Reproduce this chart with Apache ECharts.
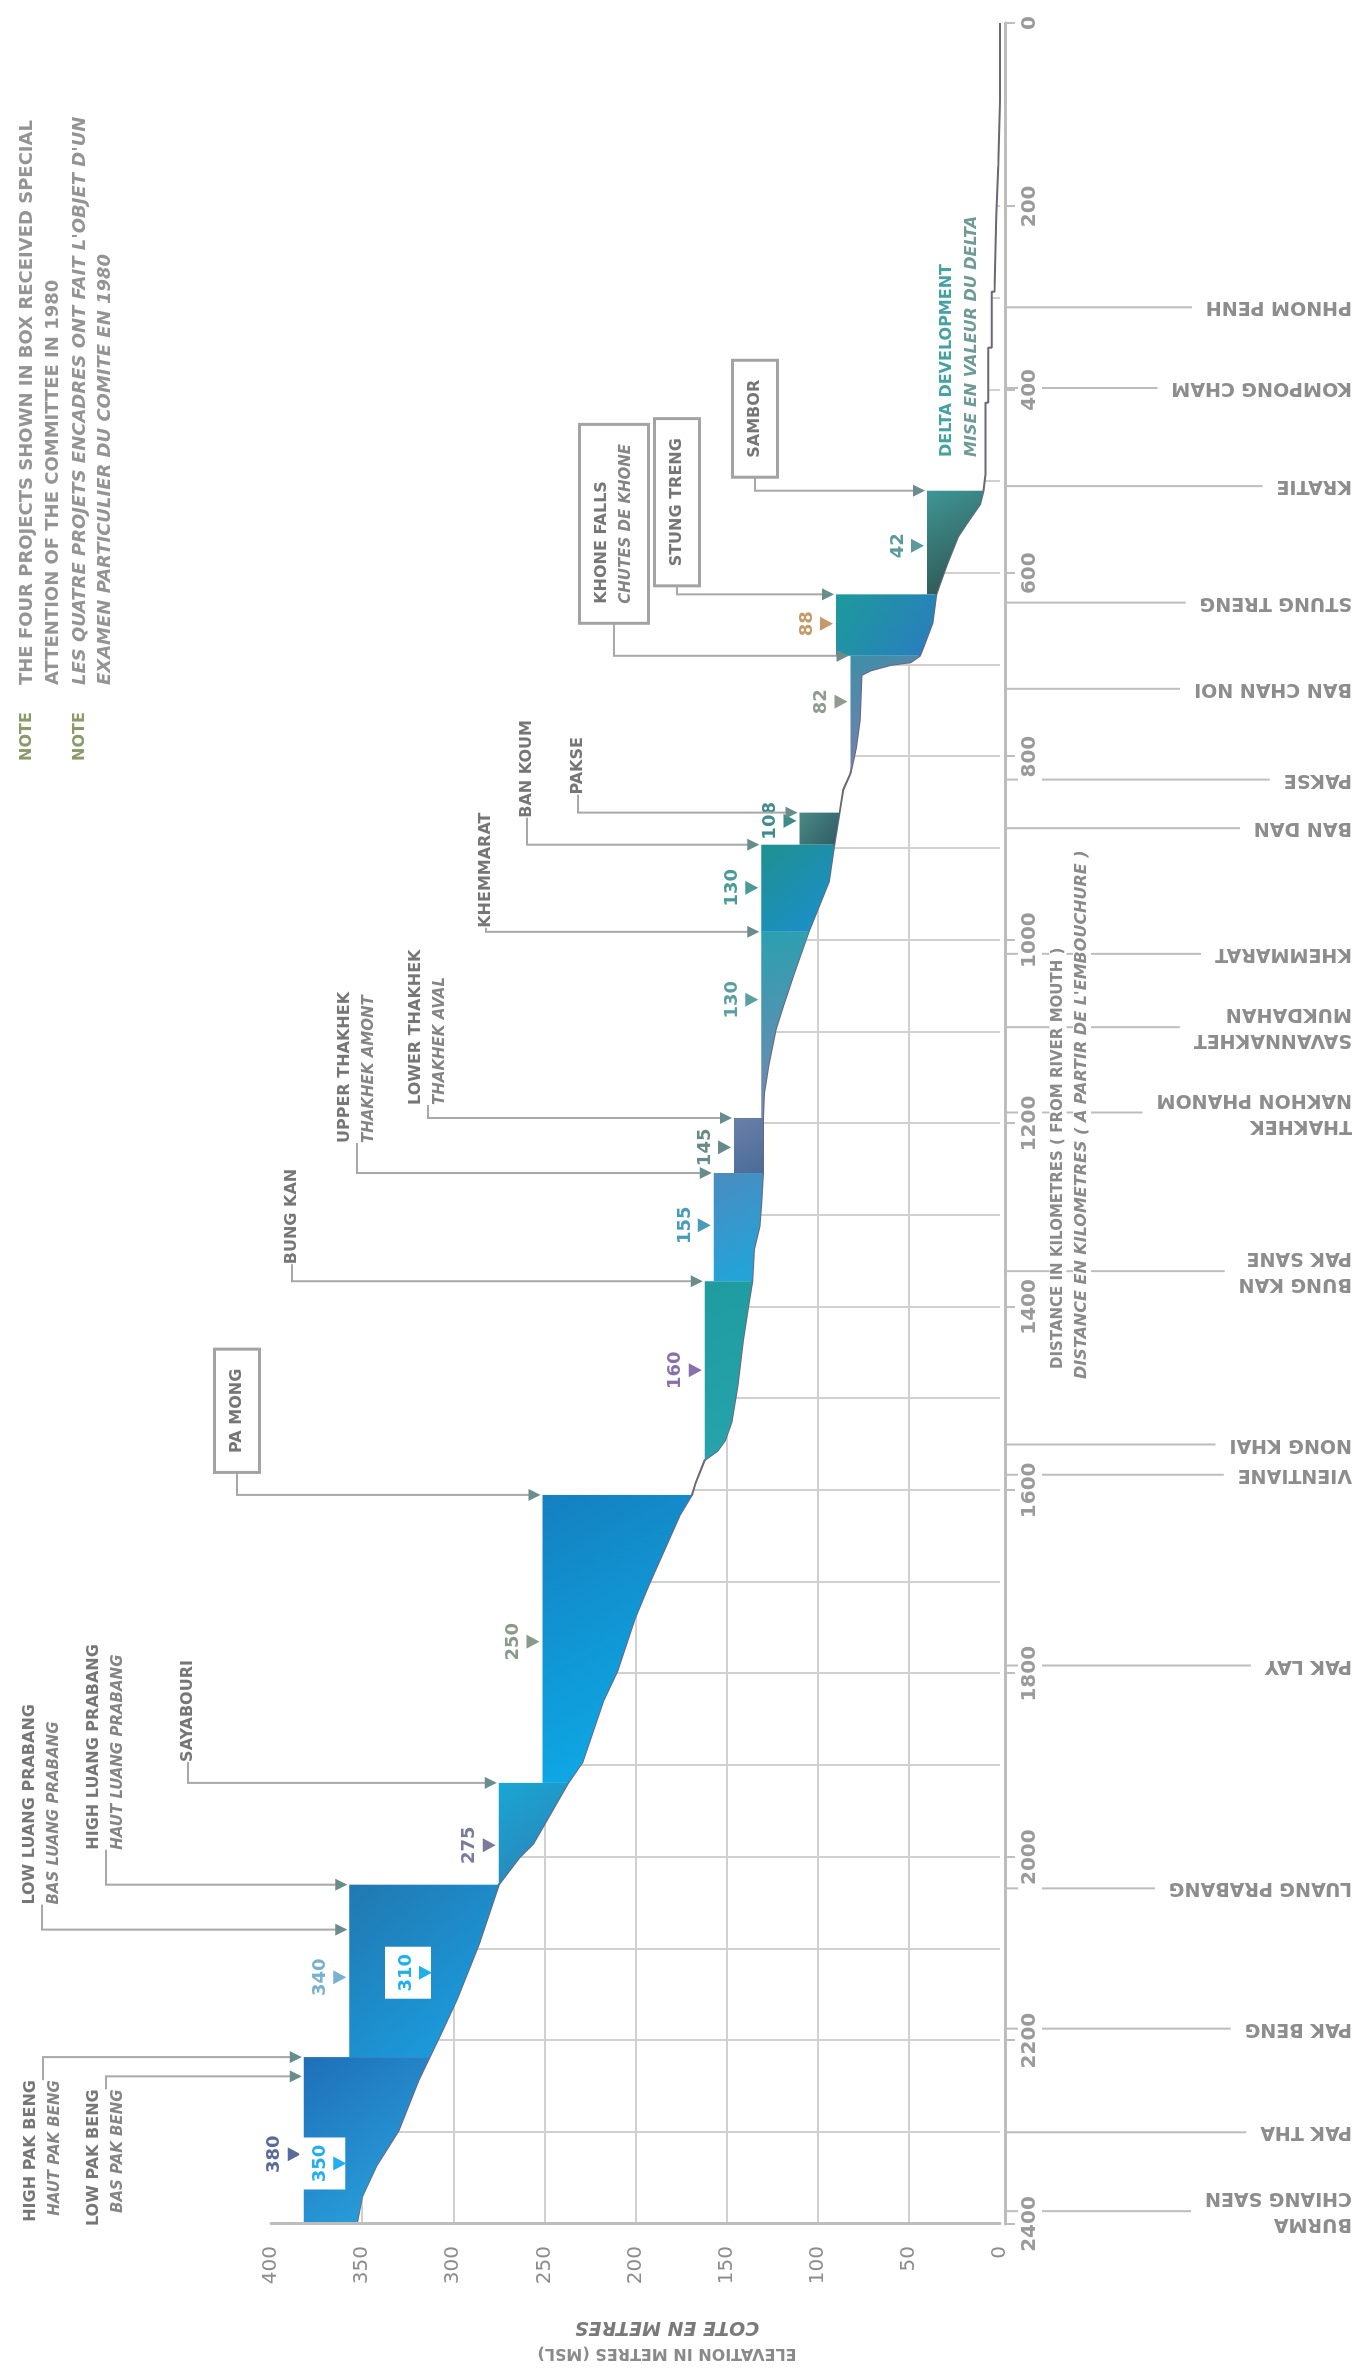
<!DOCTYPE html>
<html lang="en">
<head>
<meta charset="UTF-8">
<title>Mekong mainstream profile</title>
<script src="https://cdn.jsdelivr.net/npm/echarts@6.0.0/dist/echarts.min.js"></script>
<style>
html, body { margin: 0; padding: 0; background: #fff; overflow: hidden; }
/* chart is laid out in landscape and turned a quarter turn, like the printed sheet */
#main { position: absolute; left: 0; top: 0; width: 2375px; height: 1367px;
        transform-origin: 0 0; transform: translateY(2375px) rotate(-90deg); }
</style>
</head>
<body>
<div id="main"></div>
<script>
// river bed: km from the mouth / metres above MSL
var bedKm   = [0, 85, 85, 156, 156, 211, 211, 293, 293, 354, 354, 414, 414, 492, 510, 525, 545, 560, 590, 612,
               623, 654, 680, 690, 697, 700, 706, 711, 760, 790, 818, 836, 861, 896, 937, 966, 991, 1036, 1072, 1097,
               1136, 1167, 1194, 1254, 1287, 1312, 1337, 1372, 1397, 1436, 1486, 1527, 1546, 1557, 1567, 1592, 1605, 1628, 1704, 1743,
               1797, 1831, 1896, 1919, 1957, 1985, 2001, 2030, 2095, 2155, 2193, 2218, 2243, 2298, 2336, 2370, 2400];
var bedElev = [0, 0, 1, 1, 2, 2, 3, 3, 4.5, 4.5, 6.5, 6.5, 8, 8, 9, 11, 18, 23, 29, 33,
               35, 37, 42, 44, 49, 60, 71, 76, 77, 79, 82, 86, 88, 91, 94, 100, 105, 113, 119, 123,
               127, 129.5, 130, 130, 131, 132, 135, 136, 138, 141, 144, 147.5, 151, 155, 162, 167, 169, 176, 193, 201,
               210, 218, 229, 237, 248, 256, 264, 275, 286, 298, 307, 313, 319, 330, 342, 350, 353];

// reservoirs: dam site, upstream end, full supply level
var resName  = ['Sambor', 'Stung Treng', 'Khone Falls', 'Pakse', 'Ban Koum', 'Khemmarat', 'Lower Thakhek',
                'Upper Thakhek', 'Bung Kan', 'Pa Mong', 'Sayabouri', 'Luang Prabang', 'Pak Beng'];
var resDamKm = [510, 623, 690, 861, 896, 991, 1194, 1254, 1372, 1605, 1919, 2030, 2218];
var resEndKm = [623, 690, 818, 896, 991, 1194, 1254, 1372, 1567, 1919, 2030, 2218, 2400];
var resLevel = [40, 90, 82, 110, 131, 131, 146, 157, 162, 251, 275, 357, 382];
var resColor = [['#3f9696', '#2d4f4a'], ['#1d9a9c', '#2a7cc0'], ['#3c8fa8', '#8a7ab0'], ['#4a8a84', '#2f5a66'],
                ['#1f9090', '#1a8fd0'], ['#2aa0b0', '#7a86b0'], ['#6a80a8', '#4a6c98'], ['#4a8cc0', '#1ea6da'],
                ['#1f9ca0', '#27a4ac'], ['#1580c0', '#0cb0ec'], ['#1aa6d4', '#2c80b4'], ['#2178b0', '#1aa2e6'],
                ['#1f6fb8', '#2aa8e0']];

// printed water levels
var markKm     = [570, 655, 740, 870, 943, 1065, 1226, 1311, 1469, 1765, 1987, 2131, 2126, 2324, 2334];
var markLevel  = [40, 90, 82, 110, 131, 131, 146, 157, 162, 251, 275, 357, 310, 382, 357];
var markText   = ['42', '88', '82', '108', '130', '130', '145', '155', '160', '250', '275', '340', '310', '380', '350'];
var markLowAlt = [0, 0, 0, 0, 0, 0, 0, 0, 0, 0, 0, 0, 1, 0, 1];
var markColor  = ['#5f9a9a', '#c49a6a', '#8f9a90', '#3f8a8a', '#4a9a9a', '#5aa0a0', '#6a8a8a', '#4a9ab8',
                  '#8a70a8', '#8a9a8a', '#7a7a9a', '#7ab0d0', '#1fb0ea', '#5a6a9a', '#22aef0'];

// project names
var tagText  = [['SAMBOR'], ['STUNG TRENG'], ['KHONE FALLS', 'CHUTES DE KHONE'], ['PAKSE'], ['BAN KOUM'],
                ['KHEMMARAT'], ['LOWER THAKHEK', 'THAKHEK AVAL'], ['UPPER THAKHEK', 'THAKHEK AMONT'], ['BUNG KAN'],
                ['PA MONG'], ['SAYABOURI'], ['HIGH LUANG PRABANG', 'HAUT LUANG PRABANG'],
                ['LOW LUANG PRABANG', 'BAS LUANG PRABANG'], ['HIGH PAK BENG', 'HAUT PAK BENG'], ['LOW PAK BENG', 'BAS PAK BENG']];
var tagKm    = [510, 623, 690, 861, 896, 991, 1194, 1254, 1372, 1605, 1919, 2030, 2079, 2218, 2239];
var tagLevel = [40, 90, 82, 110, 131, 131, 146, 157, 162, 251, 275, 357, 357, 382, 382];
var tagBoxed = [1, 1, 1, 0, 0, 0, 0, 0, 0, 1, 0, 0, 0, 0, 0];
// where the names sit (px): offset from the dam line, height on the sheet
var tagDx = [15, 10, 34, 18, 27, 4, 13, 30, 17, 24, 21, 35, 25, -23, -13];
var tagY  = [755, 677, 614, 578, 527, 486, 428, 357, 292, 237, 188, 106, 42, 43, 106];

// gauging stations along the river
var stationName = ['PHNOM PENH', 'KOMPONG CHAM', 'KRATIE', 'STUNG TRENG', 'BAN CHAN NOI', 'PAKSE', 'BAN DAN',
                   'KHEMMARAT', 'SAVANNAKHET\nMUKDAHAN', 'THAKHEK\nNAKHON PHANOM', 'BUNG KAN\nPAK SANE', 'NONG KHAI',
                   'VIENTIANE', 'PAK LAY', 'LUANG PRABANG', 'PAK BENG', 'PAK THA', 'BURMA\nCHIANG SAEN'];
var stationKm   = [310, 398, 505, 632, 726, 825, 878, 1015, 1095, 1188, 1361, 1550, 1583, 1791, 2034, 2187, 2300, 2386];

var FONT = '"DejaVu Sans", sans-serif';
var chart = echarts.init(document.getElementById('main'));

function renderReservoir(params, api) {
    var i = params.dataIndex;
    var pts = [api.coord([resDamKm[i], resLevel[i]])];
    for (var j = 0; j < bedKm.length; j++) {
        if (bedKm[j] >= resDamKm[i] && bedKm[j] <= resEndKm[i]) pts.push(api.coord([bedKm[j], bedElev[j]]));
    }
    pts.push(api.coord([resEndKm[i], resLevel[i]]));
    return {
        type: 'polygon',
        shape: { points: pts },
        style: {
            fill: { type: 'linear', x: 1, y: 0, x2: 0, y2: 1,
                    colorStops: [{ offset: 0, color: resColor[i][0] }, { offset: 1, color: resColor[i][1] }] }
        }
    };
}

function renderMark(params, api) {
    var i = params.dataIndex;
    var p = api.coord([markKm[i], markLevel[i]]);
    var x = p[0], y = p[1];
    var kids = [];
    if (markLowAlt[i]) {
        kids.push({ type: 'rect', shape: { x: x - 26, y: y - 50, width: 52, height: 46 }, style: { fill: '#fff' } });
    }
    kids.push({ type: 'polygon', shape: { points: [[x - 7, y - 16], [x + 7, y - 16], [x, y - 3]] },
                style: { fill: markColor[i] } });
    kids.push({ type: 'text', style: { text: markText[i], x: x, y: y - 20, align: 'center', verticalAlign: 'bottom',
                fill: markColor[i], fontSize: 18, fontWeight: 'bold', fontFamily: FONT } });
    return { type: 'group', children: kids };
}

function renderTag(params, api) {
    var i = params.dataIndex;
    var p = api.coord([tagKm[i], tagLevel[i]]);
    var x0 = p[0], y0 = p[1];
    var dx = tagDx[i], y = tagY[i];
    var lines = tagText[i];
    var txt = '{a|' + lines[0] + '}' + (lines[1] ? '\n{b|' + lines[1] + '}' : '');
    var style = {
        text: txt, x: x0 + dx, y: y,
        align: dx >= 0 ? 'left' : 'right', verticalAlign: 'middle',
        rich: {
            a: { fill: '#767676', fontSize: 16, fontWeight: 'bold', fontFamily: FONT, lineHeight: 24 },
            b: { fill: '#858585', fontSize: 15, fontWeight: 'bold', fontStyle: 'italic', fontFamily: FONT, lineHeight: 24 }
        }
    };
    if (tagBoxed[i]) {
        style.backgroundColor = '#fff';
        style.borderColor = '#a3a3a3';
        style.borderWidth = 3;
        style.padding = [9, 18];
    }
    return {
        type: 'group',
        children: [
            { type: 'polyline', shape: { points: [[x0 + dx, y], [x0, y], [x0, y0 - 4]] },
              style: { stroke: '#a8a8a8', lineWidth: 2, fill: null } },
            { type: 'polygon', shape: { points: [[x0 - 6, y0 - 14], [x0 + 6, y0 - 14], [x0, y0 - 2]] },
              style: { fill: '#6b8c8c' } },
            { type: 'text', style: style }
        ]
    };
}

function renderStation(params, api) {
    var i = params.dataIndex;
    var p = api.coord([stationKm[i], 0]);
    return {
        type: 'group',
        children: [
            { type: 'line', shape: { x1: p[0], y1: p[1] + 6, x2: p[0], y2: 1350 },
              style: { stroke: '#bdbdbd', lineWidth: 2 } },
            { type: 'text', x: p[0], y: 1356, rotation: Math.PI / 2,
              style: { text: stationName[i], x: 0, y: 0, align: 'left', verticalAlign: 'middle',
                       fill: '#8d8d8d', fontSize: 19, fontWeight: 'bold', fontFamily: FONT, lineHeight: 26,
                       backgroundColor: '#fff', padding: [0, 14, 0, 4] } }
        ]
    };
}

var option = {
    backgroundColor: '#fff',
    animation: false,
    grid: { left: 151, right: 23, top: 271, bottom: 367, outerBoundsMode: 'none' },
    xAxis: [
        { type: 'value', min: 0, max: 2400, interval: 100, inverse: true,
          axisLine: { show: false }, axisTick: { show: false }, axisLabel: { show: false },
          splitLine: { show: true, showMinLine: false, showMaxLine: false, lineStyle: { color: '#d0d0d0', width: 2 } } },
        { type: 'value', min: 0, max: 2400, interval: 200, inverse: true, position: 'bottom', offset: 5, z: 10,
          axisLine: { show: true, onZero: false, lineStyle: { color: '#bdbdbd', width: 3 } },
          axisTick: { show: true, length: 10, lineStyle: { color: '#bdbdbd', width: 2 } },
          axisLabel: { margin: 13, color: '#9a9a9a', fontSize: 20, fontFamily: FONT, fontWeight: 'bold',
                       backgroundColor: '#fff', padding: [2, 6],
                       formatter: function (v) { return String(v); } },
          splitLine: { show: false } }
    ],
    yAxis: [
        { type: 'value', min: 0, max: 400, interval: 50,
          axisLine: { show: false }, axisTick: { show: false }, axisLabel: { show: false },
          splitLine: { show: true, showMinLine: false, showMaxLine: false, lineStyle: { color: '#d0d0d0', width: 2 } } },
        { type: 'value', min: 0, max: 400, interval: 50, position: 'left', z: 10,
          axisLine: { show: true, onZero: false, lineStyle: { color: '#bdbdbd', width: 3 } },
          axisTick: { show: false },
          axisLabel: { margin: 22, color: '#8c8c8c', fontSize: 20, fontFamily: FONT },
          splitLine: { show: false } }
    ],
    series: [
        {   // ground and open sky above the river bed
            name: 'bed', type: 'line', xAxisIndex: 0, yAxisIndex: 0, z: 2,
            data: bedKm.map(function (k, i) { return [k, bedElev[i]]; }),
            showSymbol: false,
            lineStyle: { color: '#6d6578', width: 2 },
            areaStyle: { color: '#fff', opacity: 1, origin: 'end' }
        },
        {
            name: 'reservoirs', type: 'custom', xAxisIndex: 0, yAxisIndex: 0, z: 3, clip: false,
            data: resDamKm.map(function (k, i) { return [k, resLevel[i]]; }),
            renderItem: renderReservoir
        },
        {
            name: 'levels', type: 'custom', xAxisIndex: 0, yAxisIndex: 0, z: 4, clip: false,
            data: markKm.map(function (k, i) { return [k, markLevel[i]]; }),
            renderItem: renderMark
        },
        {
            name: 'projects', type: 'custom', xAxisIndex: 0, yAxisIndex: 0, z: 4, clip: false,
            data: tagKm.map(function (k, i) { return [k, tagLevel[i]]; }),
            renderItem: renderTag
        },
        {
            name: 'stations', type: 'custom', xAxisIndex: 0, yAxisIndex: 0, z: 2, clip: false,
            data: stationKm.map(function (k) { return [k, 0]; }),
            renderItem: renderStation
        }
    ],
    graphic: [
        { type: 'text', x: 1614, y: 27, z: 100, style: { text: 'NOTE', fill: '#8a9a6a', fontSize: 16, fontWeight: 'bold', fontFamily: FONT, verticalAlign: 'middle' } },
        { type: 'text', x: 1690, y: 27, z: 100, style: { text: 'THE FOUR PROJECTS SHOWN IN BOX RECEIVED SPECIAL', fill: '#949494', fontSize: 18, fontWeight: 'bold', fontFamily: FONT, verticalAlign: 'middle' } },
        { type: 'text', x: 1690, y: 53, z: 100, style: { text: 'ATTENTION OF THE COMMITTEE IN 1980', fill: '#949494', fontSize: 18, fontWeight: 'bold', fontFamily: FONT, verticalAlign: 'middle' } },
        { type: 'text', x: 1614, y: 80, z: 100, style: { text: 'NOTE', fill: '#8a9a6a', fontSize: 16, fontWeight: 'bold', fontFamily: FONT, verticalAlign: 'middle' } },
        { type: 'text', x: 1690, y: 80, z: 100, style: { text: "LES QUATRE PROJETS ENCADRES ONT FAIT L'OBJET D'UN", fill: '#949494', fontSize: 18, fontWeight: 'bold', fontStyle: 'italic', fontFamily: FONT, verticalAlign: 'middle' } },
        { type: 'text', x: 1690, y: 105, z: 100, style: { text: 'EXAMEN PARTICULIER DU COMITE EN 1980', fill: '#949494', fontSize: 18, fontWeight: 'bold', fontStyle: 'italic', fontFamily: FONT, verticalAlign: 'middle' } },
        { type: 'text', x: 1918, y: 947, z: 100, style: { text: 'DELTA DEVELOPMENT', fill: '#46a2a2', fontSize: 16, fontWeight: 'bold', fontFamily: FONT, verticalAlign: 'middle' } },
        { type: 'text', x: 1918, y: 972, z: 100, style: { text: 'MISE EN VALEUR DU DELTA', fill: '#6f9a96', fontSize: 16, fontWeight: 'bold', fontStyle: 'italic', fontFamily: FONT, verticalAlign: 'middle' } },
        { type: 'text', x: 1000, y: 1058, z: 100, style: { text: 'DISTANCE IN KILOMETRES ( FROM RIVER MOUTH )', fill: '#8a8a8a', fontSize: 15, fontWeight: 'bold', fontFamily: FONT, verticalAlign: 'middle', backgroundColor: '#fff', padding: [1, 6] } },
        { type: 'text', x: 990, y: 1082, z: 100, style: { text: "DISTANCE EN KILOMETRES ( A PARTIR DE L'EMBOUCHURE )", fill: '#8a8a8a', fontSize: 16, fontWeight: 'bold', fontStyle: 'italic', fontFamily: FONT, verticalAlign: 'middle', backgroundColor: '#fff', padding: [1, 6] } },
        { type: 'text', x: 35, y: 667, z: 100, rotation: Math.PI / 2,
          style: { text: '{a|ELEVATION IN METRES (MSL)}\n{b|COTE EN METRES}', align: 'center', verticalAlign: 'middle',
                   rich: { a: { fill: '#8a8a8a', fontSize: 16, fontWeight: 'bold', fontFamily: FONT, lineHeight: 26 },
                           b: { fill: '#7a7a7a', fontSize: 19, fontWeight: 'bold', fontStyle: 'italic', fontFamily: FONT, lineHeight: 26 } } } }
    ]
};

chart.setOption(option);
</script>
</body>
</html>
